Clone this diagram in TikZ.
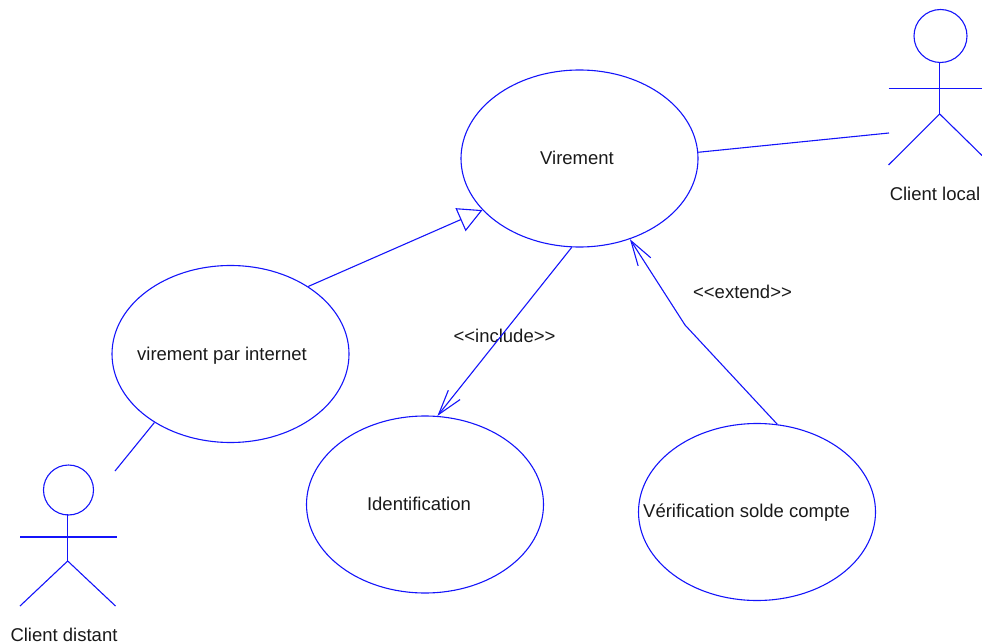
\documentclass[tikz,border=0pt]{standalone}
\usepackage{fontspec}
\setmainfont{Liberation Sans}
\usetikzlibrary{shapes.geometric,arrows.meta}
\definecolor{umlblue}{RGB}{20,20,250}
\tikzset{
  usecase/.style={ellipse,draw=umlblue,line width=1.1pt,minimum width=237pt,minimum height=177pt,inner sep=0pt},
  head/.style={circle,draw=umlblue,line width=1.1pt,inner sep=0pt},
  lbl/.style={inner sep=0pt,text=black!90,font=\fontsize{18.5pt}{21pt}\selectfont},
  conn/.style={draw=umlblue,line width=1.1pt},
  openarrow/.style={conn,-{Straight Barb[length=25pt,width=15pt,line width=1.1pt]}},
  inherit/.style={conn,-{Triangle[open,length=24pt,width=25pt,line width=1.1pt]}}
}
\begin{document}
\begin{tikzpicture}[x=1pt,y=-1pt]
\useasboundingbox (0,0) rectangle (982,644);
% use cases
\node[usecase] (vir) at (579.5,158.5) {};
\node[usecase] (net) at (230.5,354) {};
\node[usecase] (ident) at (425,504.5) {};
\node[usecase] (verif) at (757,512) {};
\node[lbl] (virL) at (577,157.5) {Virement};
\node[lbl] (netL) at (222,355.5) {virement par internet};
\node[lbl] (identL) at (419,504) {Identification};
\node[lbl] (verifL) at (746.5,512.5) {Vérification solde compte};
\node[lbl] (incL) at (504.5,336) {<{}<include>{}>};
\node[lbl] (extL) at (742.5,292) {<{}<extend>{}>};
% actor: client local
\node[head,minimum size=53pt] (headR) at (940.5,36) {};
\coordinate (neckR) at (939.7,62.5);
\coordinate (hipR) at (939.7,114);
\coordinate (armRa) at (888.5,88.5);
\coordinate (armRb) at (982,88.5);
\coordinate (legRa) at (888.5,165);
\coordinate (legRb) at (982,155.5);
\draw[conn] (neckR) -- (hipR);
\draw[conn] (armRa) -- (armRb);
\draw[conn] (legRa) -- (hipR) -- (legRb);
\node[lbl] (locL) at (935,194) {Client local};
% actor: client distant
\node[head,minimum size=50pt] (headL) at (68.5,490) {};
\coordinate (neckL) at (67.7,514);
\coordinate (hipL) at (67.7,561);
\coordinate (armLa) at (20,537);
\coordinate (armLb) at (117,537);
\coordinate (legLa) at (20,606);
\coordinate (legLb) at (115.5,606);
\draw[conn] (neckL) -- (hipL);
\draw[conn] (armLa) -- (armLb);
\draw[conn] (legLa) -- (hipL) -- (legLb);
\node[lbl] (disL) at (64,634.5) {Client distant};
% connectors
\coordinate (assocR) at (889,133);
\coordinate (assocL) at (115,471);
\coordinate (bend) at (685,325);
\draw[conn] (vir.3.1) -- (assocR);
\draw[conn] (net.222.5) -- (assocL);
\draw[inherit] (net.41.3) -- (vir.208.8);
\draw[openarrow] (vir.265.2) -- (ident.82.3);
\draw[openarrow] (verif.77.2) -- (bend) -- (vir.302.3);
\end{tikzpicture}
\end{document}
